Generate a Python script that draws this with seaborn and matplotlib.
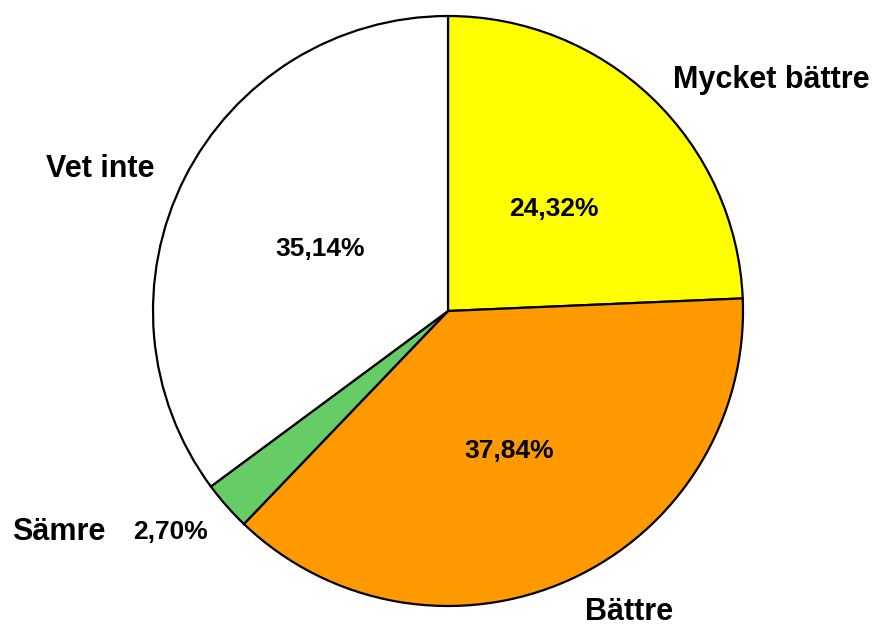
import seaborn as sns
import matplotlib.pyplot as plt

kategorier = ["Mycket bättre", "Bättre", "Sämre", "Vet inte"]
andelar = [24.32, 37.84, 2.70, 35.14]
procent_text = ["24,32%", "37,84%", "2,70%", "35,14%"]
farger = ["#FFFF00", "#FF9900", "#66CC66", "#FFFFFF"]

# textplacering (data-koordinater, radie = 1)
etikett_pos = [(1.095, 0.784), (0.615, -1.020), (-1.318, -0.750), (-1.179, 0.480)]
procent_pos = [(0.358, 0.345), (0.209, -0.476), (-0.939, -0.750), (-0.432, 0.209)]

sns.set_theme(style="white")
plt.rcParams['font.family'] = ['Liberation Sans', 'DejaVu Sans']

fig = plt.figure(figsize=(8.8, 6.3), dpi=100)
cx, cy, r = 448, 630 - 311, 295
ax = fig.add_axes([(cx - r) / 880, (cy - r) / 630, 2 * r / 880, 2 * r / 630])

wedges, _ = ax.pie(
    andelar,
    colors=farger,
    startangle=90,
    counterclock=False,
    radius=1,
    wedgeprops=dict(edgecolor="black", linewidth=1.6),
)
ax.set_xlim(-1, 1)
ax.set_ylim(-1, 1)
ax.set_aspect("equal")
ax.axis("off")

for namn, (x, y) in zip(kategorier, etikett_pos):
    ax.text(x, y, namn, ha="center", va="center", fontsize=22,
            fontweight="bold", color="black", clip_on=False)

for txt, (x, y) in zip(procent_text, procent_pos):
    ax.text(x, y, txt, ha="center", va="center", fontsize=19,
            fontweight="bold", color="black", clip_on=False)

fig.savefig("out.png", dpi=100)
